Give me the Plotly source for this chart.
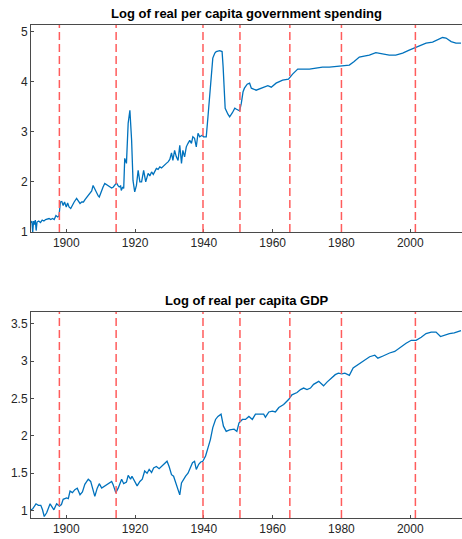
import plotly.graph_objects as go
from plotly.subplots import make_subplots

# Log of real per capita government spending (quarterly readings)
gov_years = [1889.75, 1890.0, 1890.25, 1890.5, 1890.75, 1891.0, 1891.25, 1891.5, 1892.0, 1892.5,
             1893.0, 1893.5, 1894.0, 1894.5, 1895.0, 1895.5, 1896.0, 1896.5, 1897.0, 1897.5,
             1897.9, 1898.1, 1898.3, 1898.7, 1899.1, 1899.5, 1900.0, 1900.4, 1900.8, 1901.3,
             1902.0, 1902.3, 1903.0, 1903.5, 1904.0, 1904.5, 1905.0, 1905.5, 1906.0, 1906.9,
             1907.4, 1907.8, 1908.3, 1908.8, 1909.3, 1909.6, 1910.2, 1910.7, 1911.2, 1911.7,
             1912.2, 1912.7, 1913.2, 1913.7, 1914.1, 1914.6, 1915.0, 1915.4, 1915.8, 1916.0,
             1916.4, 1916.7, 1917.0, 1917.3, 1917.5, 1918.0, 1918.5, 1919.0, 1919.4, 1919.9,
             1920.4, 1920.9, 1921.4, 1921.9, 1922.5, 1923.1, 1923.8, 1924.3, 1924.8, 1925.3,
             1925.7, 1926.2, 1926.7, 1927.2, 1927.7, 1928.1, 1928.6, 1929.1, 1929.6, 1930.1,
             1930.6, 1931.0, 1931.5, 1932.0, 1932.5, 1933.0, 1933.5, 1933.9, 1934.4, 1934.9,
             1935.4, 1935.9, 1936.4, 1936.8, 1937.3, 1937.8, 1938.3, 1938.8, 1939.5, 1939.9,
             1940.2, 1940.7, 1941.2, 1941.7, 1942.2, 1942.6, 1943.2, 1943.6, 1944.6, 1945.3,
             1945.6, 1945.9, 1946.2, 1947.0, 1947.5, 1948.3, 1949.0, 1949.5, 1950.0, 1950.4,
             1950.9, 1951.4, 1951.8, 1952.6, 1953.3, 1953.8, 1955.2, 1957.2, 1958.6, 1959.6,
             1961.0, 1962.9, 1964.6, 1965.8, 1967.3, 1968.7, 1970.7, 1972.6, 1974.5, 1976.5,
             1978.4, 1980.3, 1982.3, 1983.7, 1985.2, 1986.6, 1988.1, 1990.0, 1992.0, 1993.9,
             1995.8, 1997.8, 1999.7, 2001.2, 2002.6, 2004.6, 2006.5, 2008.0, 2009.4, 2010.4,
             2011.9, 2013.3, 2014.75]
gov_vals = [1.18, 1.22, 1.00, 1.22, 1.15, 1.24, 1.03, 1.20, 1.22, 1.19,
            1.24, 1.22, 1.25, 1.26, 1.27, 1.25, 1.27, 1.25, 1.33, 1.30,
            1.32, 1.47, 1.60, 1.61, 1.53, 1.60, 1.50, 1.58, 1.50, 1.47,
            1.58, 1.60, 1.67, 1.62, 1.57, 1.60, 1.60, 1.65, 1.70, 1.77,
            1.82, 1.93, 1.85, 1.80, 1.72, 1.70, 1.83, 1.90, 1.97, 1.95,
            1.93, 1.90, 1.88, 1.90, 1.93, 1.98, 1.93, 1.90, 1.92, 1.83,
            1.90, 1.87, 2.47, 2.40, 2.37, 3.17, 3.43, 2.83, 2.03, 1.80,
            1.93, 2.23, 2.00, 2.00, 2.23, 2.00, 2.17, 2.12, 2.20, 2.15,
            2.22, 2.27, 2.25, 2.30, 2.28, 2.31, 2.33, 2.37, 2.40, 2.45,
            2.58, 2.43, 2.63, 2.50, 2.43, 2.73, 2.37, 2.63, 2.50, 2.70,
            2.77, 2.83, 2.77, 2.90, 2.87, 2.70, 2.97, 2.90, 2.93, 2.90,
            2.90, 2.90, 3.30, 3.70, 4.20, 4.47, 4.57, 4.60, 4.62, 4.60,
            4.30, 3.80, 3.47, 3.35, 3.30, 3.38, 3.47, 3.45, 3.43, 3.42,
            3.57, 3.80, 3.87, 3.95, 3.97, 3.87, 3.83, 3.88, 3.92, 3.89,
            3.97, 4.03, 4.05, 4.15, 4.25, 4.25, 4.25, 4.27, 4.29, 4.29,
            4.30, 4.32, 4.33, 4.40, 4.49, 4.51, 4.53, 4.58, 4.55, 4.53,
            4.53, 4.57, 4.63, 4.67, 4.72, 4.77, 4.79, 4.83, 4.88, 4.87,
            4.80, 4.77, 4.77]

# Log of real per capita GDP
gdp_years = [1889.75, 1890.2, 1891.2, 1891.9, 1892.6, 1893.1, 1893.6, 1894.3, 1895.3, 1895.8,
             1896.4, 1897.2, 1898.0, 1898.6, 1899.1, 1900.1, 1900.6, 1901.1, 1901.8, 1902.5,
             1903.2, 1904.0, 1904.7, 1905.4, 1906.4, 1907.1, 1907.6, 1908.3, 1909.0, 1909.6,
             1910.3, 1911.2, 1912.2, 1913.2, 1913.6, 1914.4, 1915.1, 1916.1, 1916.7, 1917.5,
             1918.0, 1918.7, 1919.1, 1919.9, 1920.6, 1921.4, 1922.1, 1922.8, 1923.5, 1924.1,
             1924.8, 1925.4, 1926.2, 1927.0, 1927.7, 1928.6, 1929.3, 1929.9, 1930.6, 1931.2,
             1931.8, 1932.5, 1933.0, 1933.5, 1934.1, 1934.7, 1935.4, 1936.1, 1936.7, 1937.3,
             1937.8, 1938.5, 1939.1, 1939.7, 1940.5, 1941.2, 1941.9, 1942.6, 1943.4, 1944.1,
             1945.0, 1945.7, 1946.5, 1947.5, 1948.8, 1949.6, 1950.2, 1951.2, 1952.1, 1953.1,
             1954.1, 1955.0, 1956.5, 1957.4, 1957.9, 1958.9, 1959.9, 1960.8, 1961.8, 1963.2,
             1964.7, 1965.6, 1967.1, 1968.1, 1969.0, 1970.0, 1971.0, 1971.9, 1973.4, 1974.8,
             1975.8, 1976.7, 1978.2, 1979.1, 1980.1, 1981.0, 1982.3, 1983.4, 1984.9, 1986.3,
             1988.2, 1989.7, 1990.6, 1992.1, 1994.0, 1995.5, 1996.9, 1998.8, 2000.3, 2001.7,
             2003.2, 2004.6, 2006.1, 2007.5, 2008.8, 2009.9, 2011.4, 2012.8, 2014.75]
gdp_vals = [1.01, 1.02, 1.09, 1.07, 1.07, 1.01, 0.92, 0.97, 1.09, 1.06,
            1.01, 1.09, 1.06, 1.08, 1.15, 1.17, 1.16, 1.26, 1.24, 1.28,
            1.30, 1.21, 1.25, 1.35, 1.42, 1.39, 1.30, 1.19, 1.30, 1.36,
            1.30, 1.33, 1.36, 1.39, 1.35, 1.24, 1.30, 1.42, 1.36, 1.38,
            1.47, 1.42, 1.46, 1.39, 1.33, 1.39, 1.42, 1.53, 1.50, 1.55,
            1.51, 1.57, 1.59, 1.56, 1.59, 1.62, 1.66, 1.59, 1.48, 1.46,
            1.37, 1.28, 1.21, 1.37, 1.42, 1.46, 1.50, 1.59, 1.64, 1.66,
            1.55, 1.62, 1.65, 1.66, 1.73, 1.84, 1.95, 2.11, 2.22, 2.26,
            2.29, 2.13, 2.06, 2.08, 2.09, 2.06, 2.17, 2.22, 2.22, 2.26,
            2.22, 2.29, 2.29, 2.29, 2.25, 2.32, 2.33, 2.32, 2.38, 2.42,
            2.49, 2.55, 2.58, 2.62, 2.64, 2.62, 2.64, 2.69, 2.73, 2.67,
            2.72, 2.76, 2.82, 2.84, 2.83, 2.84, 2.81, 2.91, 2.96, 3.00,
            3.06, 3.08, 3.04, 3.07, 3.11, 3.13, 3.18, 3.24, 3.28, 3.28,
            3.32, 3.37, 3.39, 3.39, 3.33, 3.35, 3.37, 3.38, 3.41]

# Dates marked with vertical dashed lines
event_dates = [1898.0, 1914.5, 1939.75, 1950.5, 1965.0, 1980.0, 2001.5]

titles = ["Log of real per capita government spending", "Log of real per capita GDP"]
x_ticks = [1900, 1920, 1940, 1960, 1980, 2000]
gov_y_ticks = [1, 2, 3, 4, 5]
gdp_y_ticks = [1, 1.5, 2, 2.5, 3, 3.5]

BLUE = "#0072BD"
RED = "#FF5C5C"
AXIS = "#4a4a4a"
TXT = "#262626"
FONT = "Liberation Sans, Arial, sans-serif"

fig = make_subplots(rows=2, cols=1, vertical_spacing=0.0)

fig.add_trace(go.Scatter(x=gov_years, y=gov_vals, mode="lines",
                         line=dict(color=BLUE, width=1.3), showlegend=False), row=1, col=1)
fig.add_trace(go.Scatter(x=gdp_years, y=gdp_vals, mode="lines",
                         line=dict(color=BLUE, width=1.3), showlegend=False), row=2, col=1)

for r in (1, 2):
    for d in event_dates:
        fig.add_vline(x=d, line=dict(color=RED, width=1.5, dash="8px,4px"), row=r, col=1)

common_axis = dict(showgrid=False, zeroline=False, showline=True, linecolor=AXIS, linewidth=1,
                   mirror=True, ticks="inside", ticklen=3, tickcolor=AXIS,
                   tickfont=dict(family=FONT, size=12, color=TXT))

fig.update_xaxes(range=[1889.75, 2015.05], tickvals=x_ticks, **common_axis)
fig.update_yaxes(**common_axis)
fig.update_yaxes(range=[1.0, 5.13], tickvals=gov_y_ticks, domain=[0.580, 1.0], row=1, col=1)
fig.update_yaxes(range=[0.9, 3.66], tickvals=gdp_y_ticks,
                 ticktext=[f"{v:g}" for v in gdp_y_ticks], domain=[0.0, 0.418], row=2, col=1)

fig.add_annotation(text="<b>" + titles[0] + "</b>", xref="x domain", yref="y domain",
                   x=0.5, y=1.0, yshift=2, showarrow=False, xanchor="center", yanchor="bottom",
                   font=dict(family=FONT, size=13, color="#000000"))
fig.add_annotation(text="<b>" + titles[1] + "</b>", xref="x2 domain", yref="y2 domain",
                   x=0.5, y=1.0, yshift=2, showarrow=False, xanchor="center", yanchor="bottom",
                   font=dict(family=FONT, size=13, color="#000000"))

fig.update_layout(width=462, height=539, margin=dict(l=31, r=0, t=25, b=21),
                  paper_bgcolor="white", plot_bgcolor="white")

fig.write_html("out.html")
